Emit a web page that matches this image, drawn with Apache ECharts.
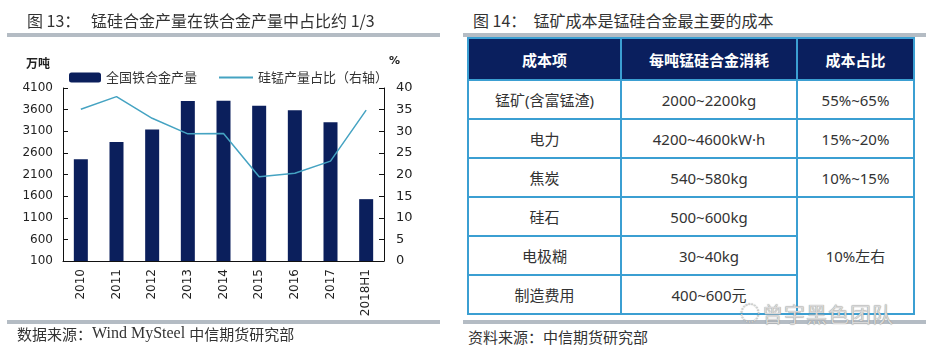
<!DOCTYPE html>
<html>
<head>
<meta charset="utf-8">
<script src="https://cdn.jsdelivr.net/npm/echarts@6/dist/echarts.min.js"></script>
<style>
  html, body { margin: 0; padding: 0; background: #fff; }
  body { width: 926px; height: 352px; position: relative; overflow: hidden; font-family: "Noto Sans CJK SC", sans-serif; }
  #chart { position: absolute; left: 0; top: 0; width: 460px; height: 352px; }
  .title2 { position: absolute; left: 473px; top: 8px; font-size: 16px; color: #333; white-space: pre; }
  .sep { position: absolute; height: 4px; background: #b4bcc4; }
  .cost-table { position: absolute; left: 467px; top: 37px; border-collapse: collapse; table-layout: fixed; }
  .cost-table td, .cost-table th { border: 2px solid #3b9fd2; text-align: center; font-size: 15px; color: #333; padding: 0;
    font-family: "Noto Sans", "Noto Sans CJK SC", sans-serif; }
  .cost-table th { background: #0a1f5e; color: #fff; font-weight: bold; height: 40px; font-family: "Noto Sans CJK SC", sans-serif; }
  .cost-table td { height: 37px; }
  .source2 { position: absolute; left: 468px; top: 326px; font-size: 15px; color: #333; }
  .mark { position: absolute; top: 298px; font-size: 21px; color: #d8d8d8; letter-spacing: 1px;
    white-space: nowrap; text-shadow: 0 0 1px #777; }
</style>
</head>
<body>
<div id="chart"></div>
<div class="title2">图 14：  锰矿成本是锰硅合金最主要的成本</div>
<div class="sep" style="left:463px;top:33px;width:463px;"></div>
<table class="cost-table" id="costTable"></table>
<div class="sep" style="left:463px;top:320px;width:463px;"></div>
<div class="source2">资料来源：中信期货研究部</div>
<div class="mark" style="left:740px;font-size:20px;">◌</div>
<div class="mark" style="left:762px;">曾宇黑色团队</div>
<script>
  // 图13 数据
  var years = ['2010', '2011', '2012', '2013', '2014', '2015', '2016', '2017', '2018H1']
  var ferroOutput = [2450, 2850, 3140, 3800, 3805, 3690, 3585, 3310, 1530]
  var simnShare = [35.1, 38.0, 33.0, 29.4, 29.5, 19.5, 20.3, 23.1, 34.9]

  // 图14 表格
  var tableHeader = ['成本项', '每吨锰硅合金消耗', '成本占比']
  var costItems = ['锰矿(含富锰渣)', '电力', '焦炭', '硅石', '电极糊', '制造费用']
  var costUsage = ['2000~2200kg', '4200~4600kW·h', '540~580kg', '500~600kg', '30~40kg', '400~600元']
  var costShare = ['55%~65%', '15%~20%', '10%~15%', '10%左右']

  var numFont = 'DejaVu Sans'
  var cnFont = 'Noto Sans CJK SC'

  var chart = echarts.init(document.getElementById('chart'))
  var option = {
    animation: false,
    title: {
      text: '图 13：   锰硅合金产量在铁合金产量中占比约 1/3',
      left: 22,
      top: 8,
      textStyle: { fontSize: 16, fontWeight: 'normal', color: '#333', fontFamily: cnFont }
    },
    legend: [
      {
        data: ['全国铁合金产量'],
        left: 64,
        top: 66,
        itemWidth: 32,
        itemHeight: 10,
        textStyle: { fontSize: 13, color: '#333', fontFamily: cnFont }
      },
      {
        data: [{ name: '硅锰产量占比（右轴）', icon: 'rect' }],
        left: 214,
        top: 66,
        itemWidth: 34,
        itemHeight: 2,
        textStyle: { fontSize: 13, color: '#333', fontFamily: cnFont }
      }
    ],
    grid: { left: 63, right: 76, top: 88, bottom: 91 },
    xAxis: {
      type: 'category',
      data: years,
      axisLine: { lineStyle: { color: '#111', width: 1 } },
      axisTick: { inside: true, length: 5, lineStyle: { color: '#111' } },
      axisLabel: { rotate: 90, fontSize: 12, color: '#222', fontFamily: numFont, margin: 8 }
    },
    yAxis: [
      {
        type: 'value',
        min: 100,
        max: 4100,
        interval: 500,
        splitLine: { show: false },
        axisLine: { show: true, lineStyle: { color: '#111' } },
        axisTick: { show: true, inside: true, length: 5, lineStyle: { color: '#111' } },
        axisLabel: { fontSize: 12, color: '#222', fontFamily: numFont, margin: 10, formatter: function (v) { return String(v) } }
      },
      {
        type: 'value',
        min: 0,
        max: 40,
        interval: 5,
        splitLine: { show: false },
        axisLine: { show: true, lineStyle: { color: '#111' } },
        axisTick: { show: true, inside: true, length: 5, lineStyle: { color: '#111' } },
        axisLabel: { fontSize: 13, color: '#222', fontFamily: numFont, margin: 12 }
      }
    ],
    series: [
      {
        name: '全国铁合金产量',
        type: 'bar',
        data: ferroOutput,
        barWidth: 14,
        itemStyle: { color: '#0b1f5c' }
      },
      {
        name: '硅锰产量占比（右轴）',
        type: 'line',
        yAxisIndex: 1,
        data: simnShare,
        symbol: 'none',
        itemStyle: { color: '#45a3c2' },
        lineStyle: { color: '#45a3c2', width: 1.5 }
      }
    ],
    graphic: [
      { type: 'rect', left: 7, top: 33, shape: { width: 433, height: 4 }, style: { fill: '#b4bcc4' } },
      { type: 'rect', left: 7, top: 320, shape: { width: 433, height: 4 }, style: { fill: '#b4bcc4' } },
      { type: 'text', left: 26, top: 57, style: { text: '万吨', fontSize: 12, fontWeight: 'bold', fill: '#222', fontFamily: cnFont } },
      { type: 'text', left: 389, top: 56, style: { text: '%', fontSize: 11, fontWeight: 'bold', fill: '#222', fontFamily: numFont } },
      {
        type: 'text',
        left: 17,
        top: 326,
        style: {
          text: '{a|数据来源：}{b|Wind MySteel }{a|中信期货研究部}',
          rich: {
            a: { fontSize: 15, fill: '#333', fontFamily: cnFont },
            b: { fontSize: 16, fill: '#333', fontFamily: 'Liberation Serif' }
          }
        }
      }
    ]
  }
  chart.setOption(option)

  // 表格
  var colW = [153, 176, 117]
  var html = '<colgroup>' + colW.map(function (w) { return '<col style="width:' + w + 'px">' }).join('') + '</colgroup>'
  html += '<tr>' + tableHeader.map(function (h) { return '<th>' + h + '</th>' }).join('') + '</tr>'
  for (var i = 0; i < costItems.length; i++) {
    html += '<tr><td>' + costItems[i] + '</td><td>' + costUsage[i] + '</td>'
    if (i < 3) {
      html += '<td>' + costShare[i] + '</td>'
    } else if (i === 3) {
      html += '<td rowspan="3">' + costShare[3] + '</td>'
    }
    html += '</tr>'
  }
  document.getElementById('costTable').innerHTML = html
</script>
</body>
</html>
